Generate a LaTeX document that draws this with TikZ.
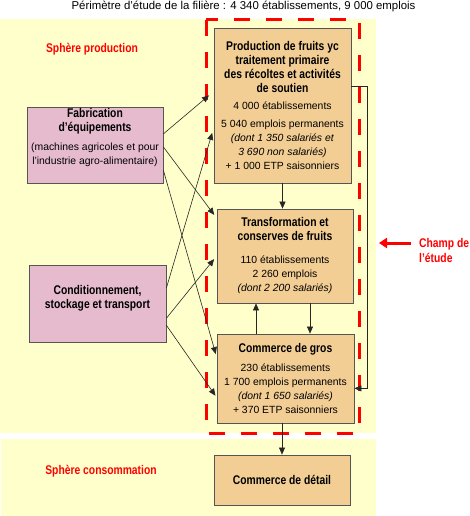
\documentclass[tikz,border=0pt]{standalone}
\usepackage{fontspec}
\setmainfont{Liberation Sans}
\newfontfamily\etroit{Liberation Sans}[FakeStretch=0.82]
\newcommand{\gras}[1]{{\fontsize{12.6}{14}\etroit\bfseries #1}}
\usetikzlibrary{arrows.meta,calc}
\definecolor{jaune}{HTML}{FFFFCC}
\definecolor{tan}{HTML}{F2CE95}
\definecolor{rose}{HTML}{E6BBCE}
\definecolor{bord}{HTML}{555555}
\begin{document}
\begin{tikzpicture}[x=1pt, y=-1pt,
    font=\fontsize{10.4}{14}\selectfont,
    main/.style = {draw=bord, line width=0.8pt, fill=tan, align=center, inner sep=0pt},
    equip/.style = {main, fill=rose},
    sphere/.style = {text=red, font=\fontsize{12.6}{15}\etroit\bfseries},
    arr/.style = {draw=black!85, line width=0.6pt, -{Triangle[length=7pt,width=6pt]}}]

    \useasboundingbox (0,0) rectangle (469,516);
    \fill[jaune] (0,19) rectangle (376,433);
    \fill[jaune] (1,439) rectangle (376,516);

    \node[font=\fontsize{11.4}{14}\selectfont] (titre) at (243.5,6) {Périmètre d'étude de la filière : 4 340 établissements, 9 000 emplois};
    \node[sphere] (sp) at (92,49) {Sphère production};
    \node[sphere] (sc) at (101,471) {Sphère consommation};

    % champ de l'étude
    \draw[red, line width=3pt, dash pattern=on 16pt off 16pt] (206,20) rectangle (359,433);

    \node[main, minimum width=137pt, minimum height=155pt] (1) at (282.5,105.5) {\gras{Production de fruits yc}\\ \gras{traitement primaire}\\ \gras{des récoltes et activités}\\ \gras{de soutien}\\[2.7pt]
         4 000 établissements\\[4.3pt]
         5 040 emplois permanents\\ \textit{(dont 1 350 salariés et}\\ \textit{3 690 non salariés)}\\
         + 1 000 ETP saisonniers};
    \node[main, minimum width=136pt, minimum height=94pt] (2) at (285,256) {\gras{Transformation et}\\ \gras{conserves de fruits}\\[9pt]
         110 établissements\\ 2 260 emplois\\ \textit{(dont 2 200 salariés)}};
    \node[main, minimum width=137pt, minimum height=89pt] (3) at (285.5,378.5) {\gras{Commerce de gros}\\[5pt]
         230 établissements\\ 1 700 emplois permanents\\ \textit{(dont 1 650 salariés)}\\ + 370 ETP saisonniers};
    \node[main, minimum width=136pt, minimum height=50pt] (4) at (282,480) {\gras{Commerce de détail}};

    \node[equip, minimum width=136pt, minimum height=76pt] (5) at (95,145) {\gras{Fabrication}\\ \gras{d’équipements}\\[5pt]
         (machines agricoles et pour\\ l’industrie agro-alimentaire)\\[3pt]};
    \node[equip, minimum width=137pt, minimum height=77pt] (6) at (97.5,303.5) {\gras{Conditionnement,}\\ \gras{stockage et transport}\\ ~};

    \draw[arr] (1.south) -- (1.south |- 2.north);
    \draw[arr] ($(3.north)+(-29.5,0)$) -- ($(2.south)+(-29,0)$);
    \draw[arr] ($(2.south)+(25,0)$) -- ($(3.north)+(24.5,0)$);
    \draw[arr] (3.south -| 4.north) -- (4.north);
    \draw[arr] ($(1.north east)!0.374!(1.south east)$) -- ++(16,0) |- ($(3.north east)!0.61!(3.south east)$);

    \draw[arr, shorten >=6pt] ($(5.north east)!0.355!(5.south east)$) -- ($(1.north west)!0.41!(1.south west)$);
    \draw[arr, shorten >=4pt] ($(5.north east)!0.526!(5.south east)$) -- ($(2.north west)!0.10!(2.south west)$);
    \draw[arr, shorten >=3pt] ($(5.north east)!0.83!(5.south east)$) -- ($(3.north west)!0.26!(3.south west)$);
    \draw[arr, shorten >=5pt] ($(6.north east)!0.30!(6.south east)$) -- ($(1.north west)!0.645!(1.south west)$);
    \draw[arr, shorten >=4pt] ($(6.north east)!0.69!(6.south east)$) -- ($(2.north west)!0.50!(2.south west)$);
    \draw[arr, shorten >=2pt] ($(6.north east)!0.78!(6.south east)$) -- ($(3.north west)!0.71!(3.south west)$);

    \node[sphere, align=left, anchor=west, inner sep=0pt] (champ) at (419,250.5) {Champ de\\l’étude};
    \coordinate (pointe) at (379,243);
    \draw[red, line width=3pt, -{Triangle[length=8pt,width=10pt]}, shorten <=8pt] (pointe -| champ.west) -- (pointe);

\end{tikzpicture}
\end{document}
